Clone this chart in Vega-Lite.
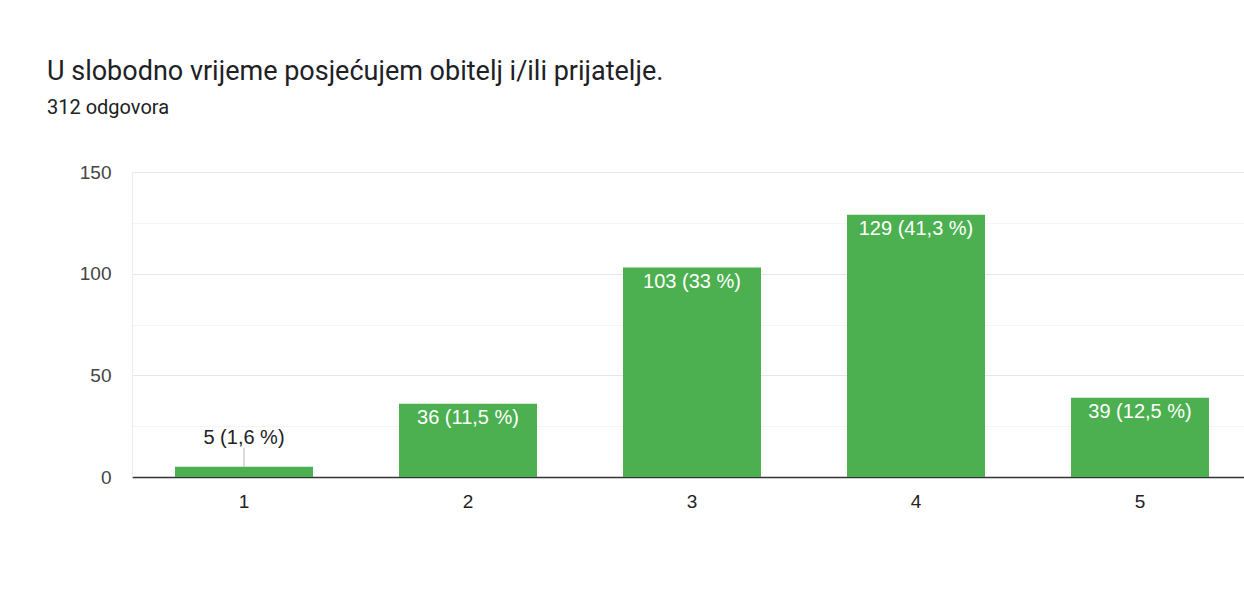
{
  "$schema": "https://vega.github.io/schema/vega-lite/v6.json",
  "autosize": "none",
  "width": 1120,
  "height": 305,
  "padding": {"left": 132, "top": 172, "right": 0, "bottom": 122},
  "background": "white",
  "title": {
    "text": "U slobodno vrijeme posjećujem obitelj i/ili prijatelje.",
    "subtitle": "312 odgovora",
    "anchor": "start",
    "frame": "group",
    "dx": -85,
    "offset": 44,
    "font": "Roboto",
    "fontSize": 27,
    "fontWeight": "normal",
    "color": "#202124",
    "subtitleFont": "Roboto",
    "subtitleFontSize": 20,
    "subtitleColor": "#202124",
    "subtitlePadding": 12
  },
  "data": {
    "values": [
      {"ocjena": "1", "broj": 5, "oznaka": "5 (1,6 %)"},
      {"ocjena": "2", "broj": 36, "oznaka": "36 (11,5 %)"},
      {"ocjena": "3", "broj": 103, "oznaka": "103 (33 %)"},
      {"ocjena": "4", "broj": 129, "oznaka": "129 (41,3 %)"},
      {"ocjena": "5", "broj": 39, "oznaka": "39 (12,5 %)"}
    ]
  },
  "encoding": {
    "x": {
      "field": "ocjena",
      "type": "ordinal",
      "scale": {"paddingInner": 0.384, "paddingOuter": 0.192},
      "axis": {
        "title": null,
        "labelAngle": 0,
        "labelFont": "Liberation Sans",
        "labelFontSize": 19,
        "labelColor": "#222222",
        "labelPadding": 15,
        "ticks": false,
        "tickSize": 0,
        "domainColor": "#333333",
        "domainWidth": 1.5,
        "grid": false
      }
    },
    "y": {
      "field": "broj",
      "type": "quantitative",
      "scale": {"domain": [0, 150], "nice": false},
      "axis": {
        "title": null,
        "values": [0, 25, 50, 75, 100, 125, 150],
        "labelExpr": "datum.value % 50 == 0 ? datum.label : ''",
        "labelFont": "Liberation Sans",
        "labelFontSize": 19,
        "labelColor": "#444444",
        "labelPadding": 21,
        "ticks": false,
        "tickSize": 0,
        "domain": true,
        "domainColor": "#ececec",
        "grid": true,
        "gridColor": {"condition": {"test": "datum.value % 50 != 0", "value": "#f4f4f4"}, "value": "#e6e6e6"},
        "gridWidth": 1
      }
    }
  },
  "layer": [
    {"mark": {"type": "bar", "color": "#4caf50"}},
    {
      "transform": [{"filter": "datum.broj >= 10"}],
      "mark": {"type": "text", "baseline": "top", "dy": 4, "font": "Liberation Sans", "fontSize": 20, "color": "#ffffff"},
      "encoding": {"text": {"field": "oznaka"}}
    },
    {
      "transform": [{"filter": "datum.broj < 10"}],
      "mark": {"type": "text", "baseline": "bottom", "dy": -19, "font": "Liberation Sans", "fontSize": 20, "color": "#222222"},
      "encoding": {"text": {"field": "oznaka"}}
    },
    {
      "transform": [{"filter": "datum.broj < 10"}],
      "mark": {"type": "tick", "orient": "vertical", "size": 19, "thickness": 1, "yOffset": -9.5, "color": "#999999"}
    }
  ],
  "config": {"view": {"stroke": null}}
}
